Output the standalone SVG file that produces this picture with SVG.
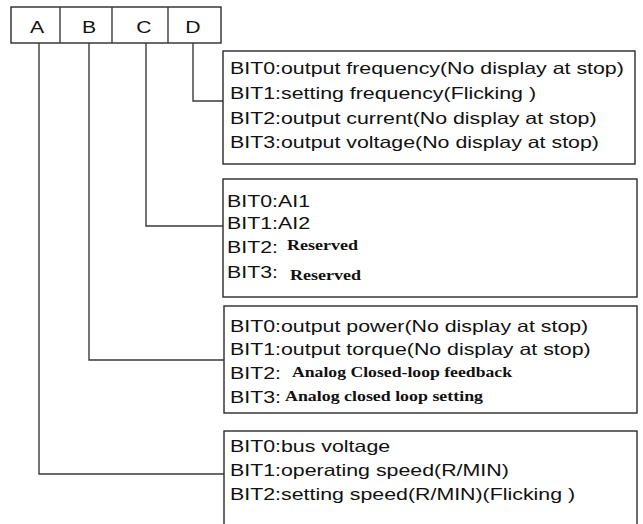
<svg xmlns="http://www.w3.org/2000/svg" width="643" height="524" viewBox="0 0 643 524">
<style>
.box{fill:#fff;stroke:#2a2a2a;stroke-width:1.4}
.ln{fill:none;stroke:#3a3a3a;stroke-width:1.4}
.t{font-family:"Liberation Sans",Arial,sans-serif;font-size:16.3px;fill:#111}
.s{font-family:"Liberation Serif","Times New Roman",serif;font-weight:bold;font-size:15px;fill:#111}
.c{text-anchor:middle}
</style>
<rect width="643" height="524" fill="#fff"/>
<g id="header">
<rect class="box" x="11" y="7" width="210" height="36"/>
<line class="ln" x1="60" y1="7" x2="60" y2="43"/>
<line class="ln" x1="112" y1="7" x2="112" y2="43"/>
<line class="ln" x1="168" y1="7" x2="168" y2="43"/>
<text class="t c" transform="matrix(1.3 0 0 1 37 33)">A</text>
<text class="t c" transform="matrix(1.3 0 0 1 89 33)">B</text>
<text class="t c" transform="matrix(1.3 0 0 1 144 33)">C</text>
<text class="t c" transform="matrix(1.3 0 0 1 193 33)">D</text>
</g>
<g id="connectors">
<polyline class="ln" points="193,43 193,101 223,101"/>
<polyline class="ln" points="146,43 146,226 223,226"/>
<polyline class="ln" points="89,43 89,360 224,360"/>
<polyline class="ln" points="39,43 39,474 224,474"/>
</g>
<g id="boxD">
<rect class="box" x="223" y="51" width="412" height="113"/>
<text class="t" transform="matrix(1.31 0 0 1 230 74)">BIT0:output frequency(No display at stop)</text>
<text class="t" transform="matrix(1.31 0 0 1 230 99)">BIT1:setting frequency(Flicking )</text>
<text class="t" transform="matrix(1.31 0 0 1 230 124)">BIT2:output current(No display at stop)</text>
<text class="t" transform="matrix(1.31 0 0 1 230 148)">BIT3:output voltage(No display at stop)</text>
</g>
<g id="boxC">
<rect class="box" x="223" y="179" width="414" height="118"/>
<text class="t" transform="matrix(1.31 0 0 1 227 207)">BIT0:AI1</text>
<text class="t" transform="matrix(1.31 0 0 1 227 229)">BIT1:AI2</text>
<text class="t" transform="matrix(1.31 0 0 1 227 253)">BIT2:</text>
<text class="s" x="287" y="250" textLength="71" lengthAdjust="spacingAndGlyphs">Reserved</text>
<text class="t" transform="matrix(1.31 0 0 1 227 278)">BIT3:</text>
<text class="s" x="290" y="280" textLength="71" lengthAdjust="spacingAndGlyphs">Reserved</text>
</g>
<g id="boxB">
<rect class="box" x="224" y="306" width="413" height="107"/>
<text class="t" transform="matrix(1.31 0 0 1 230 332)">BIT0:output power(No display at stop)</text>
<text class="t" transform="matrix(1.31 0 0 1 230 355)">BIT1:output torque(No display at stop)</text>
<text class="t" transform="matrix(1.31 0 0 1 230 379)">BIT2:</text>
<text class="s" x="292" y="377" textLength="220" lengthAdjust="spacingAndGlyphs">Analog Closed-loop feedback</text>
<text class="t" transform="matrix(1.31 0 0 1 230 403)">BIT3:</text>
<text class="s" x="285" y="401" textLength="198" lengthAdjust="spacingAndGlyphs">Analog closed loop setting</text>
</g>
<g id="boxA">
<rect class="box" x="224" y="431" width="413" height="100"/>
<text class="t" transform="matrix(1.31 0 0 1 230 452)">BIT0:bus voltage</text>
<text class="t" transform="matrix(1.31 0 0 1 230 476)">BIT1:operating speed(R/MIN)</text>
<text class="t" transform="matrix(1.31 0 0 1 230 500)">BIT2:setting speed(R/MIN)(Flicking )</text>
</g>
</svg>
